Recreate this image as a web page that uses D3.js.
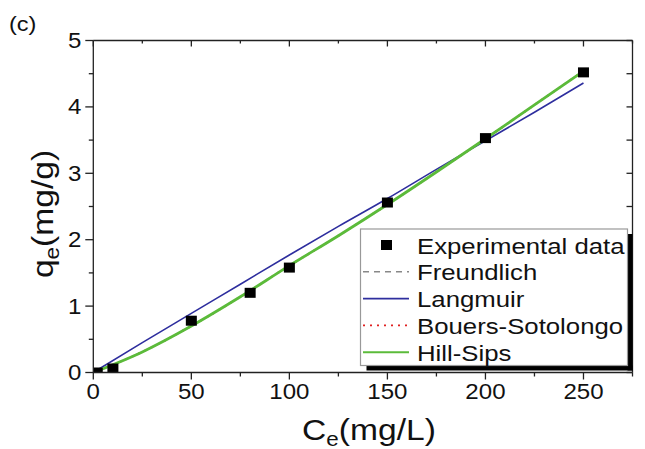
<!DOCTYPE html>
<html>
<head>
<meta charset="utf-8">
<script src="https://cdn.jsdelivr.net/npm/d3@7.9.0/dist/d3.min.js"></script>
<style>
  body { margin: 0; background: #fff; }
  svg { display: block; font-family: "Liberation Sans", Arial, sans-serif; }
</style>
</head>
<body>
<svg id="chart" width="645" height="449"></svg>
<script>
// experimental points
const expC = [2, 10, 50, 80, 100, 150, 200, 250];
const expQ = [0.0, 0.06, 0.78, 1.2, 1.58, 2.56, 3.53, 4.52];

// fitted curves (sampled by eye)
const fitC = [0, 25, 50, 75, 100, 125, 150, 175, 200, 225, 250];
const langmuirQ = [0, 0.45, 0.89, 1.33, 1.77, 2.20, 2.62, 3.06, 3.49, 3.92, 4.36];
const hillSipsQ = [0, 0.31, 0.70, 1.14, 1.61, 2.06, 2.53, 3.02, 3.52, 4.03, 4.54];
const freundlichQ = [0, 0.31, 0.70, 1.14, 1.61, 2.06, 2.53, 3.02, 3.52, 4.03, 4.54];
const bouersQ = [0, 0.31, 0.70, 1.14, 1.61, 2.06, 2.53, 3.02, 3.52, 4.03, 4.54];

const xTicks = [0, 50, 100, 150, 200, 250];
const yTicks = [0, 1, 2, 3, 4, 5];
const legendLabels = ["Experimental data", "Freundlich", "Langmuir", "Bouers-Sotolongo", "Hill-Sips"];

const svg = d3.select("#chart");
const x = d3.scaleLinear().domain([0, 275]).range([93.3, 632.5]);
const y = d3.scaleLinear().domain([0, 5]).range([372.5, 40.5]);

const axisColor = "#222";
const stretch = 1.12; // glyphs in the reference are a bit wide

function wideText(g, tx, ty, txt, size, anchor) {
  return g.append("text")
    .attr("transform", `translate(${tx},${ty}) scale(${stretch},1)`)
    .attr("text-anchor", anchor || "start")
    .attr("font-size", size)
    .attr("fill", "#111")
    .text(txt);
}

// clip for data marks
svg.append("clipPath").attr("id", "plotclip")
  .append("rect")
  .attr("x", x(0)).attr("y", y(5))
  .attr("width", x(275) - x(0)).attr("height", y(0) - y(5));

const plot = svg.append("g").attr("clip-path", "url(#plotclip)");

// curves
const fits = [
  { q: freundlichQ, color: "#888888", width: 1.5, dash: "6,5" },
  { q: bouersQ, color: "#e02020", width: 2, dash: "2,5" },
  { q: langmuirQ, color: "#2e2e9e", width: 1.6, dash: null },
  { q: hillSipsQ, color: "#5bbb3a", width: 2.8, dash: null }
];
fits.forEach(f => {
  const line = d3.line()
    .x((d, i) => x(fitC[i]))
    .y(d => y(d))
    .curve(d3.curveMonotoneX);
  plot.append("path")
    .attr("d", line(f.q))
    .attr("fill", "none")
    .attr("stroke", f.color)
    .attr("stroke-width", f.width)
    .attr("stroke-dasharray", f.dash);
});

// experimental squares
plot.selectAll("rect.pt")
  .data(expC.map((c, i) => [c, expQ[i]]))
  .enter()
  .append("rect")
  .attr("class", "pt")
  .attr("x", d => x(d[0]) - 5.5)
  .attr("y", d => y(d[1]) - 5)
  .attr("width", 11)
  .attr("height", 10)
  .attr("fill", "#000");

// axes
const xMinor = d3.range(25, 276, 50);
const yMinor = d3.range(0.5, 5, 1);

const axBottom = svg.append("g");
axBottom.append("line").attr("x1", x(0)).attr("x2", x(275)).attr("y1", y(0)).attr("y2", y(0))
  .attr("stroke", axisColor).attr("stroke-width", 1.3);
axBottom.selectAll("line.maj").data(xTicks).enter().append("line")
  .attr("x1", d => x(d)).attr("x2", d => x(d)).attr("y1", y(0)).attr("y2", y(0) + 7)
  .attr("stroke", axisColor).attr("stroke-width", 1.3);
axBottom.selectAll("line.min").data(xMinor).enter().append("line")
  .attr("x1", d => x(d)).attr("x2", d => x(d)).attr("y1", y(0)).attr("y2", y(0) + 4)
  .attr("stroke", axisColor).attr("stroke-width", 1.3);
xTicks.forEach(t => wideText(axBottom, x(t), 399, String(t), 21.5, "middle"));

const axTop = svg.append("g");
axTop.append("line").attr("x1", x(0)).attr("x2", x(275)).attr("y1", y(5)).attr("y2", y(5))
  .attr("stroke", axisColor).attr("stroke-width", 1.3);
axTop.selectAll("line.maj").data(xTicks).enter().append("line")
  .attr("x1", d => x(d)).attr("x2", d => x(d)).attr("y1", y(5)).attr("y2", y(5) + 6)
  .attr("stroke", axisColor).attr("stroke-width", 1.3);
axTop.selectAll("line.min").data(xMinor).enter().append("line")
  .attr("x1", d => x(d)).attr("x2", d => x(d)).attr("y1", y(5)).attr("y2", y(5) + 3)
  .attr("stroke", axisColor).attr("stroke-width", 1.3);

const axLeft = svg.append("g");
axLeft.append("line").attr("x1", x(0)).attr("x2", x(0)).attr("y1", y(0)).attr("y2", y(5))
  .attr("stroke", axisColor).attr("stroke-width", 1.3);
axLeft.selectAll("line.maj").data(yTicks).enter().append("line")
  .attr("x1", x(0) - 8).attr("x2", x(0)).attr("y1", d => y(d)).attr("y2", d => y(d))
  .attr("stroke", axisColor).attr("stroke-width", 1.3);
axLeft.selectAll("line.min").data(yMinor).enter().append("line")
  .attr("x1", x(0) - 4.5).attr("x2", x(0)).attr("y1", d => y(d)).attr("y2", d => y(d))
  .attr("stroke", axisColor).attr("stroke-width", 1.3);
yTicks.forEach(t => wideText(axLeft, x(0) - 12, y(t) + 7.5, String(t), 21.5, "end"));

const axRight = svg.append("g");
axRight.append("line").attr("x1", x(275)).attr("x2", x(275)).attr("y1", y(0)).attr("y2", y(5))
  .attr("stroke", axisColor).attr("stroke-width", 1.3);
axRight.selectAll("line.t").data(yTicks.concat(yMinor)).enter().append("line")
  .attr("x1", x(275) - 6).attr("x2", x(275)).attr("y1", d => y(d)).attr("y2", d => y(d))
  .attr("stroke", axisColor).attr("stroke-width", 1.3);

// axis titles
const xt = svg.append("text")
  .attr("transform", `translate(369,440) scale(${stretch},1)`)
  .attr("text-anchor", "middle").attr("font-size", 30).attr("fill", "#111");
xt.append("tspan").text("C");
xt.append("tspan").attr("font-size", 20).attr("dy", 6).text("e");
xt.append("tspan").attr("dy", -6).text("(mg/L)");

const yt = svg.append("text")
  .attr("transform", `translate(53,214) rotate(-90) scale(${stretch},1)`)
  .attr("text-anchor", "middle").attr("font-size", 30).attr("fill", "#111");
yt.append("tspan").text("q");
yt.append("tspan").attr("font-size", 20).attr("dy", 6).text("e");
yt.append("tspan").attr("dy", -6).text("(mg/g)");

// panel label
wideText(svg, 9, 31, "(c)", 21, "start");

// legend
const lg = svg.append("g");
const lx0 = 360.5, ly0 = 229, lx1 = 627.5, ly1 = 365.5;
lg.append("rect").attr("x", lx1).attr("y", ly0 + 5).attr("width", x(275) - lx1).attr("height", ly1 - ly0)
  .attr("fill", "#000");
lg.append("rect").attr("x", lx0 + 6).attr("y", ly1).attr("width", x(275) - lx0 - 6).attr("height", 5)
  .attr("fill", "#000");
lg.append("rect").attr("x", lx0).attr("y", ly0).attr("width", lx1 - lx0).attr("height", ly1 - ly0)
  .attr("fill", "#fff").attr("stroke", "#999").attr("stroke-width", 1.2);

const rowY = d3.range(legendLabels.length).map(i => 245 + i * 26.8);
legendLabels.forEach((lab, i) => {
  const yy = rowY[i];
  if (i === 0) {
    lg.append("rect").attr("x", 381).attr("y", yy - 5).attr("width", 11).attr("height", 10).attr("fill", "#000");
  } else {
    const f = [null, fits[0], fits[2], fits[1], fits[3]][i];
    lg.append("line").attr("x1", 363).attr("x2", 409).attr("y1", yy).attr("y2", yy)
      .attr("stroke", f.color).attr("stroke-width", i === 4 ? 2 : 1.6)
      .attr("stroke-dasharray", f.dash);
  }
  wideText(lg, 417, yy + 8.5, lab, 23, "start");
});
</script>
</body>
</html>
